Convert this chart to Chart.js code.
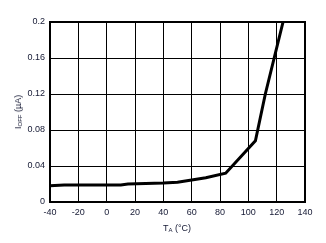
<!DOCTYPE html>
<html>
<head>
<meta charset="utf-8">
<script src="https://cdn.jsdelivr.net/npm/chart.js@4"></script>
<style>
  html, body { margin: 0; padding: 0; background: #fff; }
  #wrap { position: relative; width: 326px; height: 243px; }
  .axis-title { position: absolute; font-family: "Liberation Sans", Arial, sans-serif; font-size: 9px; color: #141833; white-space: nowrap; }
  .axis-title sub { font-size: 6px; vertical-align: -1px; }
  #ytitle { left: 18px; top: 112px; transform: translate(-50%, -50%) rotate(-90deg); }
  #xtitle { left: 177px; top: 228px; transform: translate(-50%, -50%); }
</style>
</head>
<body>
<div id="wrap">
  <canvas id="chart" width="326" height="243"></canvas>
  <div class="axis-title" id="ytitle">I<sub>OFF</sub> (µA)</div>
  <div class="axis-title" id="xtitle">T<sub>A</sub> (°C)</div>
</div>
<script>
const temps = [-40, -30, 10, 15, 40, 50, 60, 70, 84, 105, 112, 124.5];
const ioff = [0.018, 0.019, 0.019, 0.020, 0.021, 0.022, 0.0244, 0.027, 0.032, 0.068, 0.12, 0.2];
const xTicks = [-40, -20, 0, 20, 40, 60, 80, 100, 120, 140];
const yTicks = ["0", "0.04", "0.08", "0.12", "0.16", "0.2"];

const tickColor = "#141833";

// thick frame round the plot area
const framePlugin = {
  id: "frame",
  afterDatasetsDraw(chart) {
    const { ctx, chartArea: a } = chart;
    ctx.save();
    ctx.strokeStyle = "#000";
    ctx.lineWidth = 2;
    ctx.strokeRect(a.left, a.top, a.right - a.left, a.bottom - a.top);
    ctx.restore();
  }
};

new Chart(document.getElementById("chart"), {
  type: "line",
  data: {
    datasets: [{
      data: temps.map((t, i) => ({ x: t, y: ioff[i] })),
      borderColor: "#000",
      borderWidth: 3,
      pointRadius: 0,
      tension: 0,
      fill: false
    }]
  },
  options: {
    responsive: false,
    animation: false,
    layout: { padding: { left: 0, top: 22, right: 21, bottom: 0 } },
    plugins: { legend: { display: false }, tooltip: { enabled: false } },
    scales: {
      x: {
        type: "linear",
        min: -40,
        max: 140,
        afterBuildTicks: axis => { axis.ticks = xTicks.map(v => ({ value: v })); },
        afterFit: axis => { axis.height = 41; },
        ticks: {
          color: tickColor,
          font: { family: "Liberation Sans", size: 9 },
          padding: 5,
          maxRotation: 0,
          autoSkip: false
        },
        grid: { color: "#000", lineWidth: 1, drawTicks: false },
        border: { display: false }
      },
      y: {
        min: 0,
        max: 0.2,
        afterBuildTicks: axis => { axis.ticks = yTicks.map(v => ({ value: Number(v) })); },
        afterFit: axis => { axis.width = 50; },
        ticks: {
          color: tickColor,
          font: { family: "Liberation Sans", size: 9 },
          padding: 5,
          autoSkip: false,
          callback: (v, i) => yTicks[i]
        },
        grid: { color: "#000", lineWidth: 1, drawTicks: false },
        border: { display: false }
      }
    }
  },
  plugins: [framePlugin]
});
</script>
</body>
</html>
